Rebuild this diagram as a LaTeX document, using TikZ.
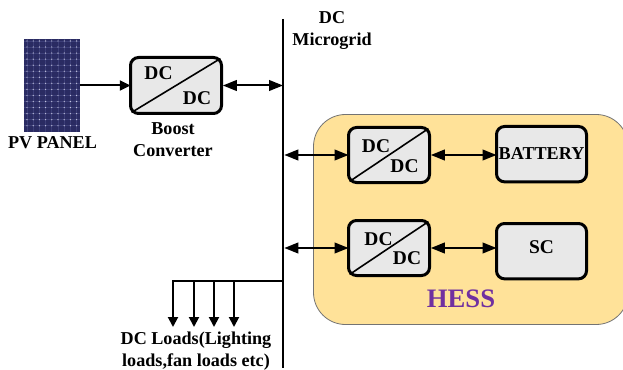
\documentclass[tikz,border=0pt]{standalone}
\usepackage{fontspec}
\setmainfont{Liberation Serif}
\usetikzlibrary{arrows.meta,calc}
\definecolor{hessfill}{HTML}{FFE299}
\definecolor{boxfill}{HTML}{E8E8E8}
\definecolor{hesstext}{HTML}{7030A0}
\definecolor{panelblue}{HTML}{2A2B62}
\definecolor{panelline}{HTML}{3C3E78}
\definecolor{paneldot}{HTML}{C4C5DC}
\tikzset{
  x=0.75pt,y=-0.75pt,
  blockbox/.style={draw=black,line width=2.25pt,fill=boxfill,rounded corners=6pt,outer sep=0pt,inner sep=0pt,anchor=north west},
  conv/.style={blockbox,minimum width=60.75pt,minimum height=41.25pt},
  store/.style={blockbox,minimum width=67.5pt,minimum height=41.5pt},
  lbl/.style={font=\fontsize{13.6pt}{16.5pt}\selectfont\bfseries,inner sep=0pt,align=center},
  dclbl/.style={font=\fontsize{14.6pt}{16pt}\selectfont\bfseries,inner sep=0pt},
  bi/.style={line width=1.5pt,{Triangle[length=10.5pt,width=8pt]}-{Triangle[length=10.5pt,width=8pt]},shorten <=1pt},
  uni/.style={line width=1.5pt,-{Triangle[length=8pt,width=7.5pt]}},
  bus/.style={line width=2pt},
  diag/.style={line width=1.2pt},
}
\begin{document}
\begin{tikzpicture}
\useasboundingbox (0,0) rectangle (623,370);
% HESS background
\node[draw=black!55,line width=0.6pt,fill=hessfill,rounded corners=24pt,outer sep=0pt,inner sep=0pt,anchor=north west,minimum width=236pt,minimum height=157.5pt] (hess) at (313.5,114.5) {};
% panel
\fill[panelblue] (24,39) rectangle (80,132);
\foreach \i in {0,...,8} \draw[panelline,line width=0.5pt] ({27+\i*6.2},39) -- ({27+\i*6.2},132);
\foreach \j in {0,...,14} {
  \draw[panelline,line width=0.5pt] (24,{41+\j*6.05}) -- (80,{41+\j*6.05});
  \foreach \i in {0,...,8} \fill[paneldot] ({27+\i*6.2},{41+\j*6.05}) circle (0.5pt);
}
\coordinate (panelE) at (80,85.5);
\node[lbl,anchor=center] (pvlabel) at (52.5,142.5) {PV PANEL};
% bus
\coordinate (busT) at (283,19);
\coordinate (busB) at (283,368);
\draw[bus] (busT) -- (busB);
% blocks
\node[blockbox,minimum width=68.25pt,minimum height=42pt] (boost) at (130.5,57.5) {};
\node[conv] (c1) at (348.5,127.5) {};
\node[conv] (c2) at (348.5,220.5) {};
\node[store] (bat) at (496.5,126.5) {};
\node[store] (sc) at (496.5,223.5) {};
\draw[diag] ($(boost.south west)+(0.8pt,0.8pt)$) -- ($(boost.north east)+(-0.8pt,-0.8pt)$);
\draw[diag] ($(c1.south west)+(0.8pt,0.8pt)$) -- ($(c1.north east)+(-0.8pt,-0.8pt)$);
\draw[diag] ($(c2.south west)+(0.8pt,0.8pt)$) -- ($(c2.north east)+(-0.8pt,-0.8pt)$);
% labels
\node[dclbl] (b1) at (158.5,73) {DC};
\node[dclbl] (b2) at (197,98) {DC};
\node[dclbl] (c1a) at (376,146) {DC};
\node[dclbl] (c1b) at (404.5,166) {DC};
\node[dclbl] (c2a) at (378.5,239) {DC};
\node[dclbl] (c2b) at (407,258) {DC};
\node[lbl] (batl) at (541.5,154) {BATTERY};
\node[dclbl] (scl) at (541.5,247.5) {SC};
\node[font=\fontsize{20pt}{22pt}\selectfont\bfseries,text=hesstext,inner sep=0pt] (hl) at (461,298.5) {HESS};
\node[lbl] (bl) at (173,139.5) {Boost\\Converter};
\node[lbl] (mg) at (332,30.5) {DC\\Microgrid};
\node[lbl] (ld) at (196,351) {DC Loads(Lighting\\[0.5pt]loads,fan loads etc)};
% connectors
\draw[uni] (panelE) -- (panelE -| boost.west);
\draw[bi] (boost.east) -- (boost.east -| busT);
\draw[bi] (c1.west -| busT) -- (c1.west);
\draw[bi] (c2.west -| busT) -- (c2.west);
\draw[bi] (c1.east) -- (bat.west |- c1.east);
\draw[bi] (c2.east) -- (sc.west |- c2.east);
% loads
\coordinate (jn) at (283,280.5);
\coordinate (l1) at (173,280.5);
\coordinate (l2) at (194,280.5);
\coordinate (l3) at (214,280.5);
\coordinate (l4) at (234,280.5);
\draw[line width=1.5pt] (jn) -- ($(l1)+(-0.75pt,0)$);
\foreach \n/\x in {l1/173,l2/194,l3/214,l4/234} \draw[line width=1.5pt,-{Triangle[length=7.5pt,width=7.5pt]}] (\n) -- (\x,327);
\end{tikzpicture}
\end{document}
